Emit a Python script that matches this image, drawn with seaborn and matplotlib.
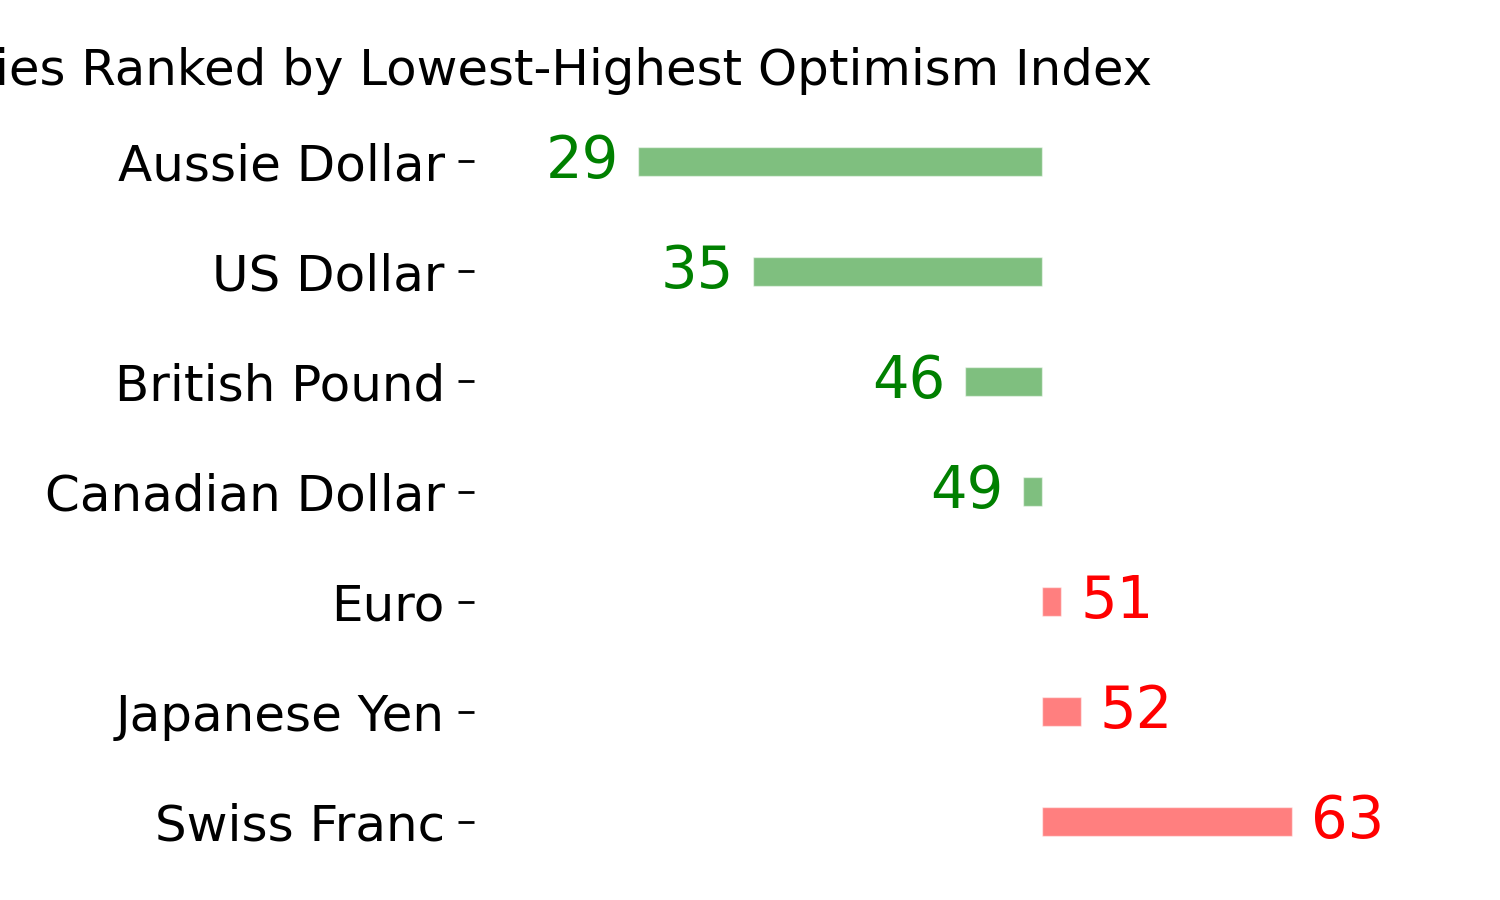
import pandas as pd
import numpy as np
import matplotlib
matplotlib.use('Agg')
import matplotlib.pyplot as plt
import seaborn as sns

# 数据
currencies = ['Aussie Dollar', 'US Dollar', 'British Pound', 'Canadian Dollar',
              'Euro', 'Japanese Yen', 'Swiss Franc']
optimism = [29, 35, 46, 49, 51, 52, 63]
baseline = 50

sns.set_theme(style='white')
plt.rcParams['font.family'] = ['DejaVu Sans']
plt.rcParams['text.color'] = 'black'
plt.rcParams['ytick.color'] = 'black'
plt.rcParams['ytick.labelcolor'] = 'black'

df = pd.DataFrame({'currency': currencies, 'value': optimism})
df['diff'] = df['value'] - baseline
df['color'] = np.where(df['diff'] < 0, 'green', 'red')

fig = plt.figure(figsize=(15, 9), dpi=100)
ax = fig.add_axes([0.316, 0.0256, 0.634, 0.8564])

sns.barplot(data=df, x='diff', y='currency', hue='color',
            palette={'green': 'green', 'red': 'red'}, alpha=0.5, saturation=1,
            width=0.265, dodge=False, legend=False, ax=ax, orient='h')

# 数值标签
for i, row in df.iterrows():
    if row['diff'] < 0:
        ax.text(row['diff'] - 1.0, i, str(row['value']), color='green',
                fontsize=41.5, ha='right', va='center')
    else:
        ax.text(row['diff'] + 1.0, i, str(row['value']), color='red',
                fontsize=41.5, ha='left', va='center')

ax.set_xlim(-29.52, 19.9)
ax.set_ylim(6.5, -0.5)
ax.set_xlabel('')
ax.set_ylabel('')
ax.set_xticks([])
ax.tick_params(axis='y', labelsize=36, length=11.5, width=2.0,
               pad=9.5, left=True, color='black', labelcolor='black')
for s in ax.spines.values():
    s.set_visible(False)

fig.text(0.3175, 1 - 85 / 900, 'Currencies Ranked by Lowest-Highest Optimism Index',
         fontsize=35.9, ha='center', va='baseline', color='black')

fig.savefig('out.png', dpi=100)
